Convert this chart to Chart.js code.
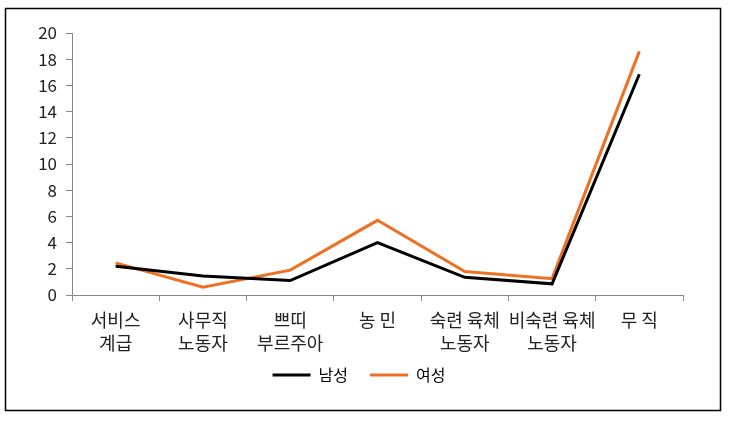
<!DOCTYPE html>
<html>
<head>
<meta charset="utf-8">
<script src="https://cdn.jsdelivr.net/npm/chart.js@4"></script>
<style>
  html, body { margin: 0; padding: 0; background: #fff; }
  #wrap { width: 733px; height: 425px; position: relative; }
</style>
</head>
<body>
<div id="wrap"><canvas id="c" width="733" height="425"></canvas></div>
<script>
const categories = [
  ['서비스', '계급'],
  ['사무직', '노동자'],
  ['쁘띠', '부르주아'],
  ['농 민'],
  ['숙련 육체', '노동자'],
  ['비숙련 육체', '노동자'],
  ['무 직']
];
const seriesNames = ['남성', '여성'];
const maleValues = [2.2, 1.45, 1.1, 4.0, 1.35, 0.85, 16.85];
const femaleValues = [2.45, 0.6, 1.9, 5.7, 1.8, 1.25, 18.6];
const yTicks = [0, 2, 4, 6, 8, 10, 12, 14, 16, 18, 20];

const FONT = '"Noto Sans CJK KR", "Noto Sans", sans-serif';

const borderPlugin = {
  id: 'frame',
  afterLayout(chart) {
    const l = chart.legend;
    if (l) { l.top -= 12; l.bottom -= 12; }
  },
  afterDraw(chart) {
    const ctx = chart.ctx;
    ctx.save();
    ctx.strokeStyle = '#000';
    ctx.lineWidth = 1.5;
    ctx.strokeRect(5.5, 8.5, 715, 402);
    ctx.restore();
  }
};

new Chart(document.getElementById('c'), {
  type: 'line',
  data: {
    labels: categories,
    datasets: [
      { label: seriesNames[0], data: maleValues, borderColor: '#000000', backgroundColor: '#000000',
        borderWidth: 3, pointRadius: 0, tension: 0 },
      { label: seriesNames[1], data: femaleValues, borderColor: '#EE7022', backgroundColor: '#EE7022',
        borderWidth: 3, pointRadius: 0, tension: 0 }
    ]
  },
  options: {
    responsive: false,
    animation: false,
    devicePixelRatio: 1,
    layout: { padding: { top: 33, left: 35, right: 50, bottom: 20 } },
    plugins: {
      tooltip: { enabled: false },
      legend: {
        position: 'bottom',
        labels: {
          font: { family: FONT, size: 16 },
          color: '#222',
          boxWidth: 38,
          boxHeight: 3,
          padding: 22,
          generateLabels(chart) {
            return chart.data.datasets.map((d, i) => ({
              text: d.label, fillStyle: d.borderColor, strokeStyle: d.borderColor,
              lineWidth: 0, datasetIndex: i, hidden: false
            }));
          }
        }
      }
    },
    scales: {
      x: {
        offset: true,
        grid: { display: true, drawOnChartArea: false, offset: true, color: '#888', tickLength: 6 },
        border: { color: '#888', width: 1 },
        ticks: { font: { family: FONT, size: 18, lineHeight: 1.28 }, color: '#222', padding: 8, maxRotation: 0, autoSkip: false },
        afterFit(scale) { scale.height = 62; }
      },
      y: {
        min: 0, max: 20,
        afterBuildTicks(scale) { scale.ticks = yTicks.map(v => ({ value: v })); },
        grid: { display: true, drawOnChartArea: false, color: '#888', tickLength: 6 },
        border: { color: '#888', width: 1 },
        ticks: { font: { family: FONT, size: 17 }, color: '#222', padding: 9 },
        afterFit(scale) { scale.width = 37; }
      }
    }
  },
  plugins: [borderPlugin]
});
</script>
</body>
</html>
